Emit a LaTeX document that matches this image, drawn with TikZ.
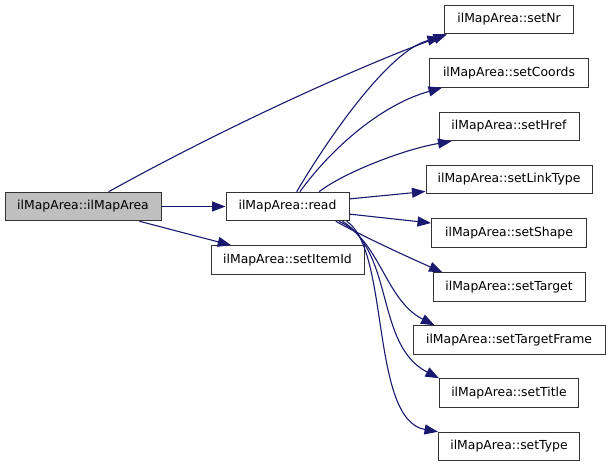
\documentclass[tikz,border=0pt]{standalone}
\usepackage{fontspec}
\setmainfont{DejaVu Sans}
\usepackage{xcolor}
\definecolor{midnight}{RGB}{25, 25, 112}
\definecolor{curfill}{RGB}{191, 191, 191}
\usepackage{tikz}
\usetikzlibrary{arrows.meta,shapes}
\tikzstyle{fn} = [draw=black!80,line width=1pt,minimum height=28.5pt,inner xsep=2pt,font=\fontsize{12.4}{14}\selectfont]
\tikzstyle{cur} = [fn,fill=curfill]
\tikzstyle{call} = [draw=midnight,line width=1.1pt,-{Triangle[length=13.5pt,width=10pt]}]

\begin{document}
\begin{tikzpicture}[x=1pt,y=-1pt]
    \useasboundingbox (0,0) rectangle (611,467);
    \node[cur,minimum width=156pt] (ilMapArea) at (83,206.5) {ilMapArea::ilMapArea};
    \node[fn,minimum width=123pt] (read) at (287.5,206.5) {ilMapArea::read};
    \node[fn,minimum width=153pt] (setItemId) at (287.5,260) {ilMapArea::setItemId};
    \foreach \n/\y/\w in {setNr/19.5/129, setCoords/73/159, setHref/126.5/140,
        setLinkType/179.5/166, setShape/233/155, setTarget/287/152,
        setTargetFrame/340/192, setTitle/393/139, setType/446.5/141} {
        \node[fn,minimum width=\w pt] (\n) at (509,\y) {ilMapArea::\n};
    }
    \path[call] (ilMapArea) -- (read);
    \path[call] (ilMapArea) -- (setItemId);
    \path[call] (ilMapArea.30) .. controls (220,130) and (350,70) .. ([xshift=3pt]setNr.south west);
    \path[call] (read.58) .. controls (330,135) and (390,50) .. ([xshift=-3pt,yshift=-3pt]setNr.south west);
    \path[call] (read.50) .. controls (330,150) and (380,105) .. ([xshift=13pt]setCoords.south west);
    \path[call] (read.25) .. controls (340,175) and (400,150) .. ([xshift=13pt]setHref.south west);
    \path[call] (read.7) -- ([yshift=-12pt]setLinkType.west);
    \path[call] (read.-7) -- ([yshift=10pt]setShape.west);
    \path[call] (read.-17) .. controls (360,235) and (410,258) .. ([xshift=10pt]setTarget.north west);
    \path[call] (read.-16) .. controls (380,240) and (385,300) .. ([xshift=22pt]setTargetFrame.north west);
    \path[call] (read.-15) .. controls (395,255) and (375,345) .. (setTitle.north west);
    \path[call] (read.-14) .. controls (390,250) and (370,420) .. (setType.north west);
\end{tikzpicture}
\end{document}
